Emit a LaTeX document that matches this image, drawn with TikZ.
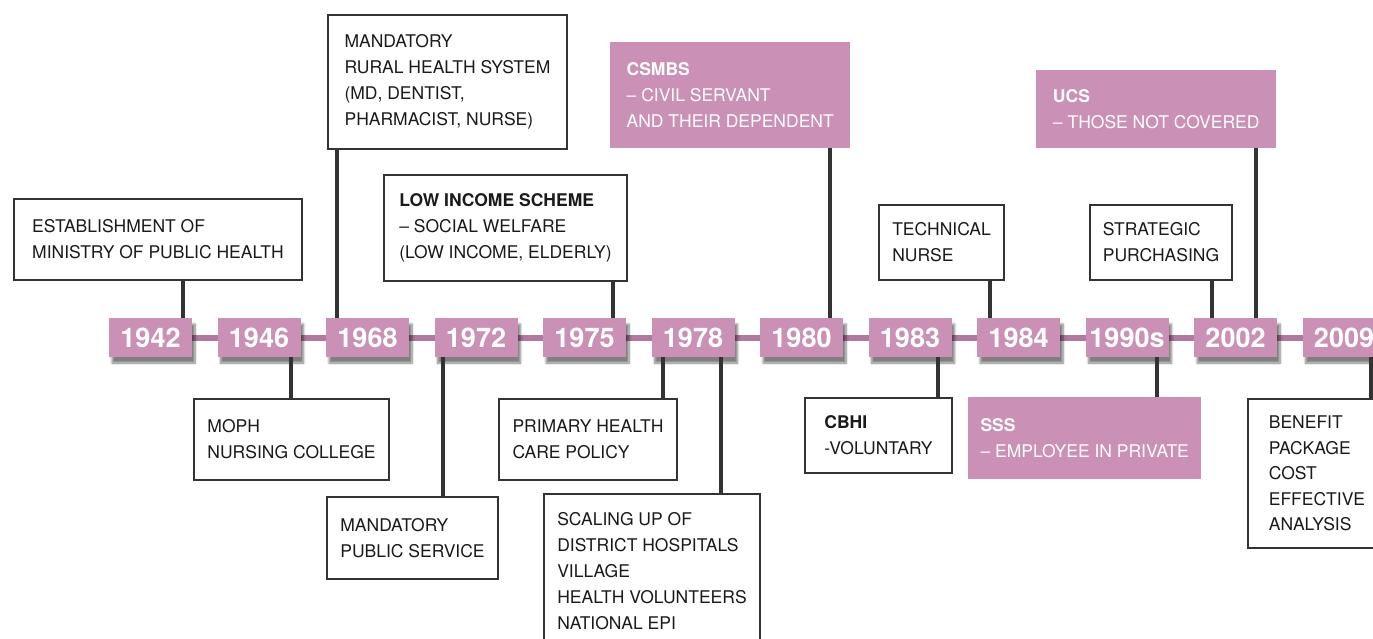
\documentclass[tikz,border=0pt]{standalone}
\usepackage{fontspec}
\setmainfont{TeX Gyre Heros}
\usetikzlibrary{backgrounds,shadows.blur}
\begin{document}
\begin{tikzpicture}[x=1pt,y=-1pt,
  box/.style={draw=stemgray,line width=2pt,fill=white,anchor=north west,align=left,
    inner sep=0pt,text=textdark,font=\fontsize{17.5}{26}\selectfont},
  pinkbox/.style={fill=pink1,anchor=north west,align=left,inner sep=0pt,
    text=white,font=\fontsize{17.5}{26}\selectfont},
  yr/.style={fill=pink1,text=white,font=\bfseries\fontsize{27}{27}\selectfont,
    minimum width=83pt,minimum height=39pt,inner sep=0pt,
    blur shadow={shadow xshift=3pt,shadow yshift=-6pt,shadow opacity=50,shadow blur steps=8}},
  stem/.style={draw=stemgray,line width=4pt},
  spine/.style={draw=pink2,line width=6pt}]
\definecolor{pink1}{HTML}{CB90B5}
\definecolor{pink2}{HTML}{B07A9F}
\definecolor{stemgray}{HTML}{333333}
\definecolor{textdark}{HTML}{1A1A1A}
\useasboundingbox (0,0) rectangle (1373,639);
% years on the time line
\foreach \yr [count=\i from 0] in {1942,1946,1968,1972,1975,1978,1980,1983,1984,1990s,2002,2009}
  \node[yr] (y\yr) at ({150.5+108.5*\i},337.5) {\yr};
\begin{scope}[on background layer]
\draw[spine] (y1942.center) -- (y2009.center) -- ++(60,0);
\end{scope}
% events above the line
\node[box,minimum width=288pt,minimum height=81pt] (estab) at (13,198) {ESTABLISHMENT OF\\MINISTRY OF PUBLIC HEALTH};
\node[box,minimum width=239pt,minimum height=134pt] (rural) at (327,14) {MANDATORY\\RURAL HEALTH SYSTEM\\(MD, DENTIST,\\PHARMACIST, NURSE)};
\node[box,minimum width=243pt,minimum height=106pt] (lowinc) at (383,174) {\textbf{LOW INCOME SCHEME}\\\textendash{} SOCIAL WELFARE\\(LOW INCOME, ELDERLY)};
\node[pinkbox,minimum width=240pt,minimum height=106pt] (csmbs) at (610,42) {\textbf{CSMBS}\\\textendash{} CIVIL SERVANT\\AND THEIR DEPENDENT};
\node[box,minimum width=125pt,minimum height=75pt] (technical) at (878,204) {TECHNICAL\\NURSE};
\node[pinkbox,minimum width=240pt,minimum height=78pt] (ucs) at (1036,70) {\textbf{UCS}\\\textendash{} THOSE NOT COVERED};
\node[box,minimum width=142pt,minimum height=75pt] (strategic) at (1089,204) {STRATEGIC\\PURCHASING};
% events below the line
\node[box,minimum width=195pt,minimum height=81pt] (moph) at (193,398) {MOPH\\NURSING COLLEGE};
\node[box,minimum width=171pt,minimum height=82pt] (pubserv) at (326,496) {MANDATORY\\PUBLIC SERVICE};
\node[box,minimum width=178pt,minimum height=81pt] (primary) at (498,398) {PRIMARY HEALTH\\CARE POLICY};
\node[box,minimum width=216pt,minimum height=154pt] (scaling) at (543,493) {SCALING UP OF\\DISTRICT HOSPITALS\\VILLAGE\\HEALTH VOLUNTEERS\\NATIONAL EPI};
\node[box,minimum width=147pt,minimum height=75pt] (cbhi) at (804,397) {\textbf{CBHI}\\-VOLUNTARY};
\node[pinkbox,minimum width=233pt,minimum height=82pt] (sss) at (968,397) {\textbf{SSS}\\\textendash{} EMPLOYEE IN PRIVATE};
\node[box,minimum width=138pt,minimum height=149pt,font=\fontsize{17.5}{25.4}\selectfont] (benefit) at (1247,398) {BENEFIT\\PACKAGE\\COST\\EFFECTIVE\\ANALYSIS};
% connectors
\draw[stem] (estab.south -| 183,0) -- (y1942.north -| 183,0);
\draw[stem] (rural.south -| 337,0) -- (y1968.north -| 337,0);
\draw[stem] (lowinc.south -| 613,0) -- (y1975.north -| 613,0);
\draw[stem] (csmbs.south -| 830,0) -- (y1980.north -| 830,0);
\draw[stem] (technical.south -| 990,0) -- (y1984.north -| 990,0);
\draw[stem] (strategic.south -| 1212,0) -- (y2002.north -| 1212,0);
\draw[stem] (ucs.south -| 1256,0) -- (y2002.north -| 1256,0);
\draw[stem] (y1946.south -| 291,0) -- (moph.north -| 291,0);
\draw[stem] (y1972.south -| 443,0) -- (pubserv.north -| 443,0);
\draw[stem] (y1978.south -| 663,0) -- (primary.north -| 663,0);
\draw[stem] (y1978.south -| 721,0) -- (scaling.north -| 721,0);
\draw[stem] (y1983.south -| 938,0) -- (cbhi.north -| 938,0);
\draw[stem] (y1990s.south -| 1157,0) -- (sss.north -| 1157,0);
\draw[stem] (y2009.south -| 1371,0) -- (benefit.north -| 1371,0);
\end{tikzpicture}
\end{document}
